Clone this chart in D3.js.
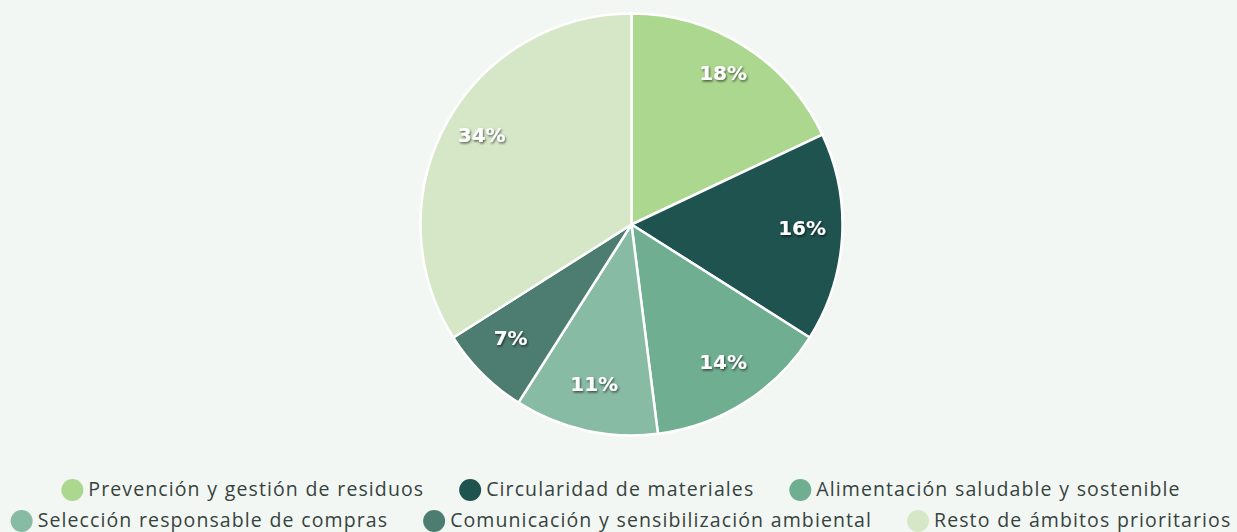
<!DOCTYPE html>
<html>
<head>
<meta charset="utf-8">
<script src="https://cdn.jsdelivr.net/npm/d3@7"></script>
<style>
  html, body { margin: 0; padding: 0; background: #f3f7f3; }
  svg { display: block; }
  .lbl { font-family: "DejaVu Sans", sans-serif; font-weight: bold; font-size: 20px; fill: #fff; }
  .leg { font-family: "Open Sans", sans-serif; font-size: 19.5px; fill: #36433e; letter-spacing: 1.1px; word-spacing: 0.5px; }
</style>
</head>
<body>
<div id="chart"></div>
<script>
"use strict";

var categories = ["Prevención y gestión de residuos", "Circularidad de materiales",
  "Alimentación saludable y sostenible", "Selección responsable de compras",
  "Comunicación y sensibilización ambiental", "Resto de ámbitos prioritarios"];
var values = [18, 16, 14, 11, 7, 34];
var colors = ["#acd78f", "#1f534f", "#6fae91", "#88bba3", "#4d7d70", "#d6e7c8"];
var legendRows = [[0, 1, 2], [3, 4, 5]];

var width = 1237, height = 532;
var cx = 631.5, cy = 224.5, radius = 211;

var svg = d3.select("#chart").append("svg")
  .attr("width", width)
  .attr("height", height);

// soft shadow for the labels
var defs = svg.append("defs");
var f = defs.append("filter").attr("id", "tshadow")
  .attr("x", "-20%").attr("y", "-30%").attr("width", "140%").attr("height", "160%");
f.append("feDropShadow").attr("dx", 1).attr("dy", 1.5).attr("stdDeviation", 1.2)
  .attr("flood-color", "#000").attr("flood-opacity", 0.6);

var pie = d3.pie().sort(null).value(function(d) { return d; });
var arc = d3.arc().innerRadius(0).outerRadius(radius);
var labelArc = d3.arc().innerRadius(radius * 0.81).outerRadius(radius * 0.81);

var g = svg.append("g").attr("transform", "translate(" + cx + "," + cy + ")");
var arcs = pie(values);

g.selectAll("path.slice")
  .data(arcs)
  .enter().append("path")
  .attr("class", "slice")
  .attr("d", arc)
  .attr("fill", function(d, i) { return colors[i]; })
  .attr("stroke", "#fff")
  .attr("stroke-width", 2.5)
  .attr("stroke-linejoin", "round");

g.selectAll("text.lbl")
  .data(arcs)
  .enter().append("text")
  .attr("class", "lbl")
  .attr("filter", "url(#tshadow)")
  .attr("text-anchor", "middle")
  .attr("dy", "0em")
  .attr("transform", function(d) { return "translate(" + labelArc.centroid(d) + ")"; })
  .text(function(d) { return d.data + "%"; });

// legend, two centered rows
var rowY = [490, 521];
var gap = 35, r = 11, pad = 5;
legendRows.forEach(function(row, ri) {
  var lg = svg.append("g");
  var x = 0;
  row.forEach(function(k) {
    var item = lg.append("g").attr("transform", "translate(" + x + ",0)");
    item.append("circle").attr("cx", r).attr("cy", 0).attr("r", r).attr("fill", colors[k]);
    var t = item.append("text").attr("class", "leg")
      .attr("x", 2 * r + pad).attr("dy", "0.3em").text(categories[k]);
    x += 2 * r + pad + t.node().getComputedTextLength() + gap;
  });
  var total = x - gap;
  lg.attr("transform", "translate(" + (621 - total / 2) + "," + rowY[ri] + ")");
});
</script>
</body>
</html>
